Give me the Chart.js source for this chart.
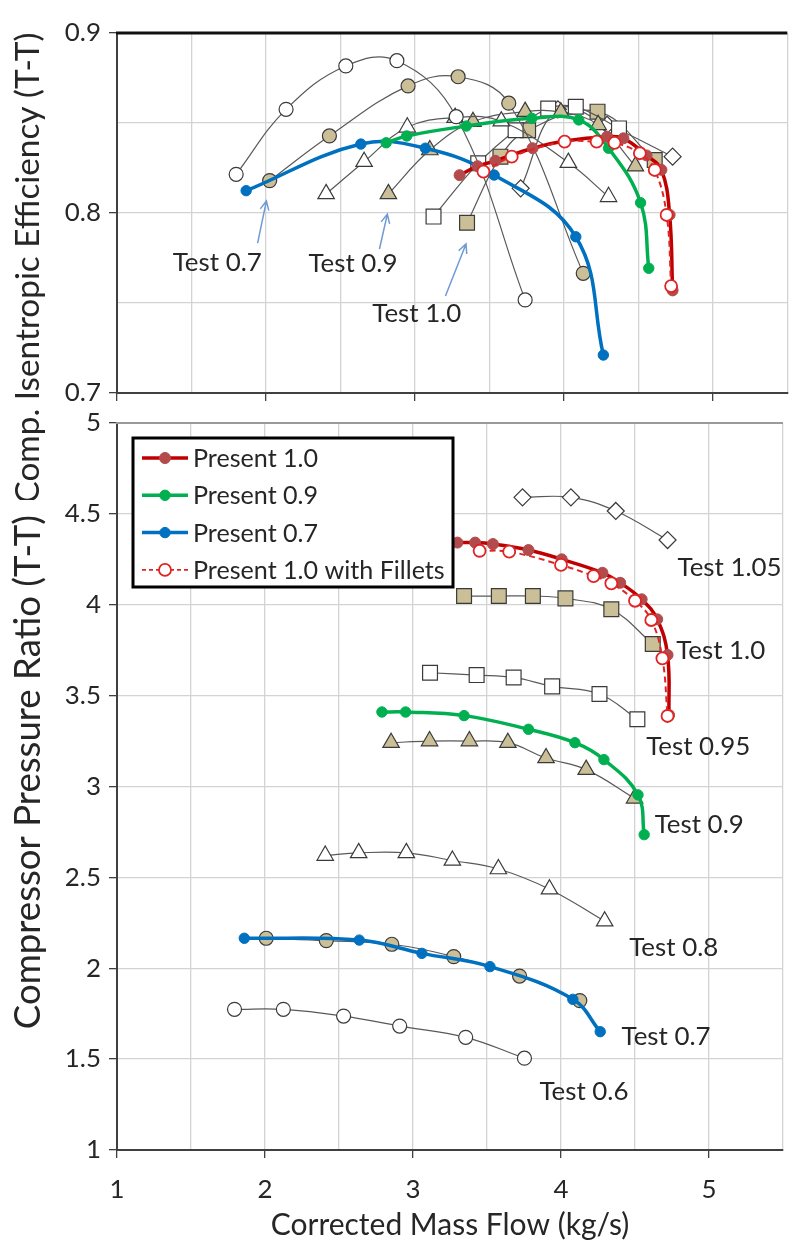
<!DOCTYPE html>
<html>
<head>
<meta charset="utf-8">
<script src="https://cdn.jsdelivr.net/npm/chart.js@4.4.1/dist/chart.umd.min.js"></script>
<style>
  html, body { margin: 0; padding: 0; background: #fff; }
  #wrap { position: relative; width: 799px; height: 1249px; }
  canvas { position: absolute; left: 0; top: 0; }
</style>
</head>
<body>
<div id="wrap">
  <canvas id="prChart" width="799" height="1249"></canvas>
  <canvas id="effChart" width="799" height="500"></canvas>
</div>
<script>
// Tick labels
const xTicks = [1, 2, 3, 4, 5];
const effTicks = [0.7, 0.8, 0.9];
const prTicks = [1, 1.5, 2, 2.5, 3, 3.5, 4, 4.5, 5];

// Legend entries
const presentNames = ['Present 1.0', 'Present 0.9', 'Present 0.7', 'Present 1.0 with Fillets'];

// Efficiency (T-T) vs corrected mass flow, [kg/s, eff]
const effPresent10 = [[3.30, 0.821], [3.42, 0.826], [3.54, 0.829], [3.79, 0.836], [4.005, 0.840], [4.29, 0.8424], [4.40, 0.8415], [4.555, 0.832], [4.655, 0.824], [4.71, 0.799], [4.73, 0.757]];
const effFillets = [[3.46, 0.823], [3.65, 0.8313], [4.005, 0.8396], [4.22, 0.8396], [4.34, 0.839], [4.51, 0.8332], [4.61, 0.8239], [4.69, 0.7989], [4.72, 0.7594]];
const effPresent09 = [[2.807, 0.839], [2.945, 0.8428], [3.345, 0.8483], [3.785, 0.8526], [4.10, 0.8517], [4.30, 0.836], [4.515, 0.8057], [4.57, 0.7693]];
const effPresent07 = [[1.867, 0.8124], [2.637, 0.8383], [3.07, 0.836], [3.532, 0.8211], [4.08, 0.7868], [4.265, 0.7211]];
const effTest06 = [[1.80, 0.8215], [2.135, 0.8576], [2.536, 0.8817], [2.879, 0.8846], [3.277, 0.8535], [3.74, 0.7517]];
const effTest07 = [[2.025, 0.818], [2.426, 0.8428], [2.954, 0.8706], [3.29, 0.8757], [3.63, 0.861], [4.13, 0.7665]];
const effTest08 = [[2.404, 0.8106], [2.659, 0.8285], [2.949, 0.8476], [3.27, 0.853], [3.58, 0.851], [4.03, 0.828], [4.30, 0.809]];
const effTest09 = [[2.822, 0.8106], [3.10, 0.835], [3.39, 0.8507], [3.74, 0.8563], [3.98, 0.856], [4.23, 0.849], [4.48, 0.826]];
const effTest095 = [[3.125, 0.798], [3.425, 0.8276], [3.676, 0.846], [3.895, 0.858], [4.08, 0.859], [4.37, 0.847]];
const effTest10 = [[3.35, 0.7946], [3.574, 0.8313], [3.76, 0.846], [4.226, 0.8563], [4.61, 0.8294]];
const effTest105 = [[3.71, 0.8137], [3.96, 0.8576], [4.29, 0.849], [4.73, 0.8313]];

// Pressure ratio (T-T) vs corrected mass flow, [kg/s, PR]
const prPresent10 = [[3.30, 4.342], [3.42, 4.342], [3.54, 4.334], [3.78, 4.301], [4.005, 4.25], [4.28, 4.176], [4.40, 4.121], [4.545, 4.03], [4.65, 3.92], [4.72, 3.724], [4.73, 3.393]];
const prFillets = [[3.45, 4.297], [3.65, 4.292], [4.00, 4.219], [4.22, 4.158], [4.34, 4.118], [4.50, 4.022], [4.61, 3.916], [4.685, 3.705], [4.72, 3.388]];
const prPresent09 = [[2.79, 3.41], [2.95, 3.41], [3.345, 3.39], [3.78, 3.315], [4.094, 3.241], [4.29, 3.148], [4.52, 2.954], [4.562, 2.735]];
const prPresent07 = [[1.86, 2.165], [2.637, 2.155], [3.06, 2.082], [3.52, 2.009], [4.08, 1.829], [4.265, 1.651]];
const prTest06 = [[1.794, 1.774], [2.124, 1.774], [2.531, 1.737], [2.91, 1.682], [3.356, 1.62], [3.753, 1.505]];
const prTest07 = [[2.008, 2.165], [2.414, 2.152], [2.857, 2.132], [3.275, 2.064], [3.72, 1.957], [4.127, 1.822]];
const prTest08 = [[2.407, 2.62], [2.633, 2.635], [2.955, 2.635], [3.266, 2.593], [3.577, 2.546], [3.922, 2.435], [4.295, 2.259]];
const prTest09 = [[2.852, 3.241], [3.112, 3.25], [3.381, 3.25], [3.641, 3.241], [3.899, 3.157], [4.17, 3.093], [4.497, 2.935]];
const prTest095 = [[3.115, 3.626], [3.43, 3.613], [3.68, 3.60], [3.94, 3.551], [4.26, 3.509], [4.516, 3.37]];
const prTest10 = [[3.345, 4.048], [3.58, 4.048], [3.81, 4.048], [4.03, 4.035], [4.34, 3.975], [4.62, 3.784]];
const prTest105 = [[3.74, 4.591], [4.067, 4.591], [4.37, 4.516], [4.72, 4.356]];

// Text notes, placed in data units
const effNotes = [['Test 0.7', 1.673, 0.7722], ['Test 0.9', 2.584, 0.7717], ['Test 1.0', 3.013, 0.7439]];
const effArrows = [[1.944, 0.7833, 2.003, 0.8067], [2.762, 0.780, 2.815, 0.7994], [3.205, 0.7539, 3.343, 0.7828]];
const prNotes = [['Test 1.05', 5.139, 4.202], ['Test 1.0', 5.079, 3.746], ['Test 0.95', 4.927, 3.217], ['Test 0.9', 4.934, 2.788],
  ['Test 0.8', 4.762, 2.111], ['Test 0.7', 4.710, 1.622], ['Test 0.6', 4.155, 1.319]];

const FONT = 'Lato, "Open Sans", sans-serif';
const INK = '#262626';
const GRID = '#d3d3d3';
const AXIS = '#404040';
const TAN = '#cbbf98';
const RED = '#c00000', RED_PT = '#b34a4c', FILLET = '#e02424';
const GREEN = '#00b050', BLUE = '#0070c0';

const meas = document.createElement('canvas').getContext('2d');
function fitPx(text, width) {
  meas.font = '100px ' + FONT;
  return Math.round(1000 * width / meas.measureText(text).width) / 10;
}
const TXT = fitPx('Test 1.05', 104);
const LEG = fitPx('Present 1.0 with Fillets', 252);

const near = (list, v) => list.some(t => Math.abs(t - v) < 1e-6);

const testLine = { borderColor: '#595959', borderWidth: 1.2, pointBorderColor: '#3a3a3a', pointBorderWidth: 1.2 };
const shapes = {
  openCircle: { ...testLine, pointStyle: 'circle', pointRadius: 7, pointBackgroundColor: '#fff' },
  tanCircle: { ...testLine, pointStyle: 'circle', pointRadius: 7, pointBackgroundColor: TAN },
  openTri: { ...testLine, pointStyle: 'triangle', pointRadius: 9.5, pointBackgroundColor: '#fff' },
  tanTri: { ...testLine, pointStyle: 'triangle', pointRadius: 9.5, pointBackgroundColor: TAN },
  openSq: { ...testLine, pointStyle: 'rect', pointRadius: 10.5, pointBackgroundColor: '#fff' },
  tanSq: { ...testLine, pointStyle: 'rect', pointRadius: 10.5, pointBackgroundColor: TAN },
  openDia: { ...testLine, pointStyle: 'rectRot', pointRadius: 8.5, pointBackgroundColor: '#fff' },
  present10: { borderColor: RED, borderWidth: 3.5, pointStyle: 'circle', pointRadius: 5.5, pointBackgroundColor: RED_PT, pointBorderColor: RED_PT, pointBorderWidth: 1 },
  present09: { borderColor: GREEN, borderWidth: 3.5, pointStyle: 'circle', pointRadius: 5.2, pointBackgroundColor: GREEN, pointBorderColor: GREEN, pointBorderWidth: 1 },
  present07: { borderColor: BLUE, borderWidth: 3.5, pointStyle: 'circle', pointRadius: 5.2, pointBackgroundColor: BLUE, pointBorderColor: BLUE, pointBorderWidth: 1 },
  fillets: { borderColor: FILLET, borderWidth: 2, borderDash: [6, 4], pointStyle: 'circle', pointRadius: 6, pointBackgroundColor: '#fff', pointBorderColor: FILLET, pointBorderWidth: 1.8 }
};

function series(label, pairs, style) {
  return { label, data: pairs.map(([x, y]) => ({ x, y })), showLine: true, tension: 0.4, ...style };
}

function xScale(showLabels, height) {
  return {
    type: 'linear', min: 1, max: 5.5,
    ticks: {
      display: showLabels, stepSize: 0.5, autoSkip: false, maxRotation: 0, padding: 16,
      color: INK, font: { family: FONT, size: TXT },
      callback: v => near(xTicks, v) ? String(v) : ''
    },
    grid: { color: GRID, lineWidth: 1.3, tickLength: 8, tickColor: c => near(xTicks, c.tick.value) ? AXIS : 'rgba(0,0,0,0)' },
    border: { color: AXIS, width: 2 },
    afterFit: s => { s.height = height; }
  };
}

function yScale(min, max, step, labels) {
  return {
    type: 'linear', min, max,
    ticks: {
      stepSize: step, autoSkip: false, padding: 8, color: INK, font: { family: FONT, size: TXT },
      callback: v => near(labels, v) ? String(v) : ''
    },
    grid: { color: GRID, lineWidth: 1.3, tickLength: 8, tickColor: c => near(labels, c.tick.value) ? AXIS : 'rgba(0,0,0,0)' },
    border: { color: AXIS, width: 2 },
    afterFit: s => { s.width = 117; }
  };
}

function vTitle(ctx, text, x, y, width) {
  const size = fitPx(text, width);
  ctx.save();
  ctx.translate(x, y);
  ctx.rotate(-Math.PI / 2);
  ctx.font = size + 'px ' + FONT;
  ctx.fillStyle = INK;
  ctx.textAlign = 'center';
  ctx.textBaseline = 'middle';
  ctx.fillText(text, 0, 0);
  ctx.restore();
}

function drawNotes(chart, notes) {
  const { ctx, scales } = chart;
  ctx.save();
  ctx.font = TXT + 'px ' + FONT;
  ctx.fillStyle = INK;
  ctx.textAlign = 'center';
  ctx.textBaseline = 'middle';
  notes.forEach(([t, x, y]) => ctx.fillText(t, scales.x.getPixelForValue(x), scales.y.getPixelForValue(y)));
  ctx.restore();
}

function drawArrows(chart, arrows) {
  const { ctx, scales } = chart;
  ctx.save();
  ctx.strokeStyle = '#6f9ad3';
  ctx.lineWidth = 1.5;
  arrows.forEach(([x1, y1, x2, y2]) => {
    const ax = scales.x.getPixelForValue(x1), ay = scales.y.getPixelForValue(y1);
    const bx = scales.x.getPixelForValue(x2), by = scales.y.getPixelForValue(y2);
    const a = Math.atan2(by - ay, bx - ax);
    ctx.beginPath();
    ctx.moveTo(ax, ay);
    ctx.lineTo(bx, by);
    ctx.moveTo(bx - 10 * Math.cos(a - 0.45), by - 10 * Math.sin(a - 0.45));
    ctx.lineTo(bx, by);
    ctx.lineTo(bx - 10 * Math.cos(a + 0.45), by - 10 * Math.sin(a + 0.45));
    ctx.stroke();
  });
  ctx.restore();
}

function topEdge(chart, color, width) {
  const { ctx, chartArea } = chart;
  ctx.save();
  ctx.strokeStyle = color;
  ctx.lineWidth = width;
  ctx.beginPath();
  ctx.moveTo(chartArea.left - 1, chartArea.top);
  ctx.lineTo(chartArea.right, chartArea.top);
  ctx.stroke();
  ctx.restore();
}

function drawLegend(chart) {
  const { ctx, chartArea } = chart;
  const styles = [shapes.present10, shapes.present09, shapes.present07, shapes.fillets];
  const left = chartArea.left + 16, top = chartArea.top + 15, w = 320, h = 149;
  ctx.save();
  ctx.fillStyle = '#fff';
  ctx.fillRect(left, top, w, h);
  ctx.strokeStyle = '#000';
  ctx.lineWidth = 3;
  ctx.strokeRect(left, top, w, h);
  presentNames.forEach((name, i) => {
    const s = styles[i];
    const y = top + 20 + i * 37.3;
    ctx.strokeStyle = s.borderColor;
    ctx.lineWidth = s.borderDash ? 1.6 : 3.5;
    ctx.setLineDash(s.borderDash ? [4, 3] : []);
    ctx.beginPath();
    ctx.moveTo(left + 9, y);
    ctx.lineTo(left + 55, y);
    ctx.stroke();
    ctx.setLineDash([]);
    ctx.beginPath();
    ctx.arc(left + 32, y, s.pointRadius, 0, Math.PI * 2);
    ctx.fillStyle = s.pointBackgroundColor;
    ctx.fill();
    ctx.lineWidth = s.pointBorderWidth;
    ctx.strokeStyle = s.pointBorderColor;
    ctx.stroke();
    ctx.font = LEG + 'px ' + FONT;
    ctx.fillStyle = INK;
    ctx.textAlign = 'left';
    ctx.textBaseline = 'middle';
    ctx.fillText(name, left + 60, y + 1);
  });
  ctx.restore();
}

const common = {
  responsive: false,
  animation: false,
  events: [],
  plugins: { legend: { display: false }, tooltip: { enabled: false } }
};

new Chart(document.getElementById('effChart'), {
  type: 'scatter',
  data: {
    datasets: [
      series('Present 1.0 with Fillets', effFillets, shapes.fillets),
      series('Present 1.0', effPresent10, shapes.present10),
      series('Present 0.9', effPresent09, shapes.present09),
      series('Present 0.7', effPresent07, shapes.present07),
      series('Test 0.6', effTest06, shapes.openCircle),
      series('Test 0.7', effTest07, shapes.tanCircle),
      series('Test 0.8', effTest08, shapes.openTri),
      series('Test 0.9', effTest09, shapes.tanTri),
      series('Test 0.95', effTest095, shapes.openSq),
      series('Test 1.0', effTest10, shapes.tanSq),
      series('Test 1.05', effTest105, shapes.openDia)
    ]
  },
  options: {
    ...common,
    layout: { padding: { top: 33, left: 0, right: 0, bottom: 0 } },
    scales: { x: xScale(false, 107), y: yScale(0.7, 0.9, 0.05, effTicks) }
  },
  plugins: [{
    id: 'effDeco',
    beforeDatasetsDraw(chart) { topEdge(chart, '#111', 3); },
    afterDraw(chart) {
      drawArrows(chart, effArrows);
      drawNotes(chart, effNotes);
      vTitle(chart.ctx, 'Comp. Isentropic Efficiency (T-T)', 28, 268, 471);
    }
  }]
});

new Chart(document.getElementById('prChart'), {
  type: 'scatter',
  data: {
    datasets: [
      series('Present 1.0 with Fillets', prFillets, shapes.fillets),
      series('Present 1.0', prPresent10, shapes.present10),
      series('Present 0.9', prPresent09, shapes.present09),
      series('Present 0.7', prPresent07, shapes.present07),
      series('Test 0.6', prTest06, shapes.openCircle),
      series('Test 0.7', prTest07, shapes.tanCircle),
      series('Test 0.8', prTest08, shapes.openTri),
      series('Test 0.9', prTest09, shapes.tanTri),
      series('Test 0.95', prTest095, shapes.openSq),
      series('Test 1.0', prTest10, shapes.tanSq),
      series('Test 1.05', prTest105, shapes.openDia)
    ]
  },
  options: {
    ...common,
    layout: { padding: { top: 423, left: 0, right: 0, bottom: 0 } },
    scales: { x: xScale(true, 99), y: yScale(1, 5, 0.5, prTicks) }
  },
  plugins: [{
    id: 'prDeco',
    beforeDatasetsDraw(chart) { topEdge(chart, '#9a9a9a', 2); },
    afterDraw(chart) {
      drawLegend(chart);
      drawNotes(chart, prNotes);
      vTitle(chart.ctx, 'Compressor Pressure Ratio (T-T)', 28, 772, 514);
      const size = fitPx('Corrected Mass Flow (kg/s)', 359);
      const ctx = chart.ctx;
      ctx.save();
      ctx.font = size + 'px ' + FONT;
      ctx.fillStyle = INK;
      ctx.textAlign = 'center';
      ctx.textBaseline = 'middle';
      ctx.fillText('Corrected Mass Flow (kg/s)', (chart.chartArea.left + chart.chartArea.right) / 2, 1225);
      ctx.restore();
    }
  }]
});
</script>
</body>
</html>
